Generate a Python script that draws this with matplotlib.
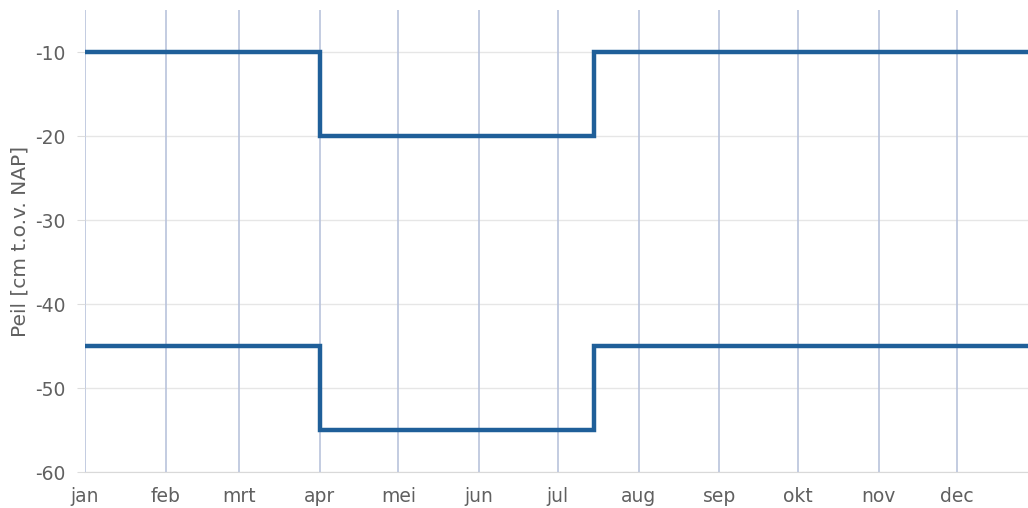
import matplotlib
matplotlib.use('Agg')
import matplotlib.pyplot as plt

# data
maanden = ['jan', 'feb', 'mrt', 'apr', 'mei', 'jun', 'jul', 'aug', 'sep', 'okt', 'nov', 'dec']
maand_start = [0, 31, 59, 90, 120, 151, 181, 212, 243, 273, 304, 334]  # dag van het jaar
stap_dagen = [0, 90, 195, 365]
bovenpeil = [-10, -20, -10, -10]
onderpeil = [-45, -55, -45, -45]
y_ticks = [-60, -50, -40, -30, -20, -10]

lijnkleur = '#1f5f99'
tekstkleur = '#606060'

fig = plt.figure(figsize=(10.28, 5.08), dpi=100)
ax = fig.add_axes([85 / 1028, 36 / 508, 953 / 1028, 462 / 508])

ax.step(stap_dagen, bovenpeil, where='post', color=lijnkleur, lw=3.2, solid_joinstyle='miter', zorder=3)
ax.step(stap_dagen, onderpeil, where='post', color=lijnkleur, lw=3.2, solid_joinstyle='miter', zorder=3)

ax.set_xlim(0, 365)
ax.set_ylim(-60, -5)

ax.set_xticks(maand_start)
ax.set_xticklabels(maanden)
ax.set_yticks(y_ticks)
ax.set_yticklabels([str(v) for v in y_ticks])

# rasterlijnen
for d in maand_start:
    ax.axvline(d, color='#b9c3dc', lw=1.2, zorder=1)
for v in y_ticks:
    ax.axhline(v, color='#e6e6e6', lw=1, zorder=0)

for s in ['top', 'right', 'left']:
    ax.spines[s].set_visible(False)
ax.spines['bottom'].set_color('#d9d9d9')

ax.tick_params(axis='x', length=0, pad=11, labelsize=13.5, labelcolor=tekstkleur)
ax.tick_params(axis='y', length=6, color='#dddddd', pad=8, labelsize=13.5, labelcolor=tekstkleur)

ax.set_ylabel('Peil [cm t.o.v. NAP]', fontsize=14.5, color=tekstkleur)
ax.yaxis.set_label_coords(-0.058, 0.5)

fig.savefig('out.png', dpi=100)
